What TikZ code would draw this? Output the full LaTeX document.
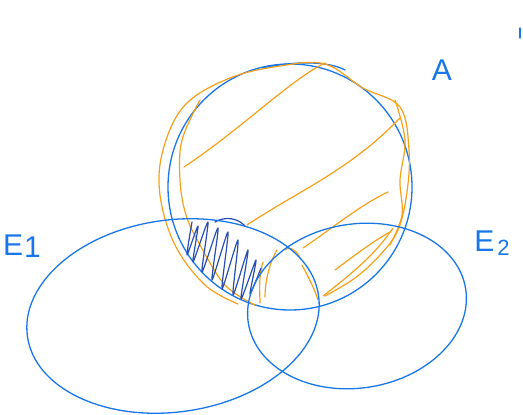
\documentclass[tikz,border=0pt]{standalone}
\usepackage{fontspec}
\setmainfont{Liberation Sans}
\usetikzlibrary{calc}
\definecolor{penblue}{RGB}{24,118,232}
\definecolor{penorange}{RGB}{245,160,24}
\definecolor{inkblue}{RGB}{40,78,178}
\begin{document}
\begin{tikzpicture}[x=1pt, y=-1pt,
    bluepen/.style={draw=penblue, line width=1.3pt, line cap=round, line join=round},
    orangepen/.style={draw=penorange, line width=1.2pt, line cap=round, line join=round},
    scribble/.style={draw=inkblue, line width=1.2pt, line cap=round, line join=round},
    lbl/.style={text=penblue, font=\fontsize{30}{30}\selectfont, inner sep=0pt},
]
\useasboundingbox (0,0) rectangle (523,415);

% Set A
\draw[bluepen] (290,187) ellipse [x radius=122, y radius=123];
\draw[bluepen] (262,68) .. controls (300,60) and (330,62) .. (345,70);

% Orange outline of A (two wobbly strokes)
\draw[orangepen] plot[smooth, tension=0.6] coordinates {
    (238,304) (205,285) (175,245) (160,195) (163,150)
    (185,105) (230,78) (280,66) (325,64) (363,88) (400,107) (409,150)
    (407,192) (398,230) (380,255) (355,278) (325,296)};
\draw[orangepen] plot[smooth, tension=0.6] coordinates {
    (395,100) (405,140) (400,180) (402,215) (390,245)};
\draw[orangepen] plot[smooth, tension=0.6] coordinates {
    (200,100) (182,140) (180,180) (186,215) (200,245) (225,285) (255,305)};

% Orange hatching
\draw[orangepen] (184,167) .. controls (240,130) and (290,80) .. (325,63);
\draw[orangepen] (247,225) .. controls (300,190) and (350,170) .. (400,118);
\draw[orangepen] (303,248) .. controls (330,230) and (360,205) .. (388,192);
\draw[orangepen] (335,270) .. controls (355,255) and (375,240) .. (390,232);
\draw[orangepen] (323,296) .. controls (350,275) and (375,255) .. (393,228);
\draw[orangepen] (263,262) .. controls (258,280) and (260,292) .. (260,303);
\draw[orangepen] (277,250) .. controls (268,265) and (265,285) .. (265,297);
\draw[orangepen] (285,250) .. controls (290,245) and (298,252) .. (300,258);
\draw[orangepen] (302,265) .. controls (310,280) and (315,290) .. (318,300);

% Scribble on A and E1 only
\draw[scribble] plot[smooth, tension=0.4] coordinates {
    (192,222) (187,255) (198,226) (193,262) (208,222) (202,272) (218,228)
    (212,280) (228,232) (222,289) (238,240) (233,295) (248,250) (241,299)
    (256,260) (250,294) (261,268)};
\draw[scribble] (215,222) .. controls (225,216) and (238,218) .. (245,226);

% Sets E1 and E2
\draw[bluepen] (173,316) ellipse [x radius=147, y radius=96, rotate=8];
\draw[bluepen] (357,306) ellipse [x radius=110, y radius=82, rotate=9];

% Labels
\node[lbl] (labA) at (442,70) {A};
\node[lbl] (labE1) at (22,246) {E\kern1pt\raisebox{-2pt}{1}};
\node[lbl] (labE2) at (492,243) {E\kern3pt\raisebox{-4pt}{\fontsize{22}{22}\selectfont 2}};
\draw[bluepen] (520,28) -- (520,38);
\end{tikzpicture}
\end{document}
